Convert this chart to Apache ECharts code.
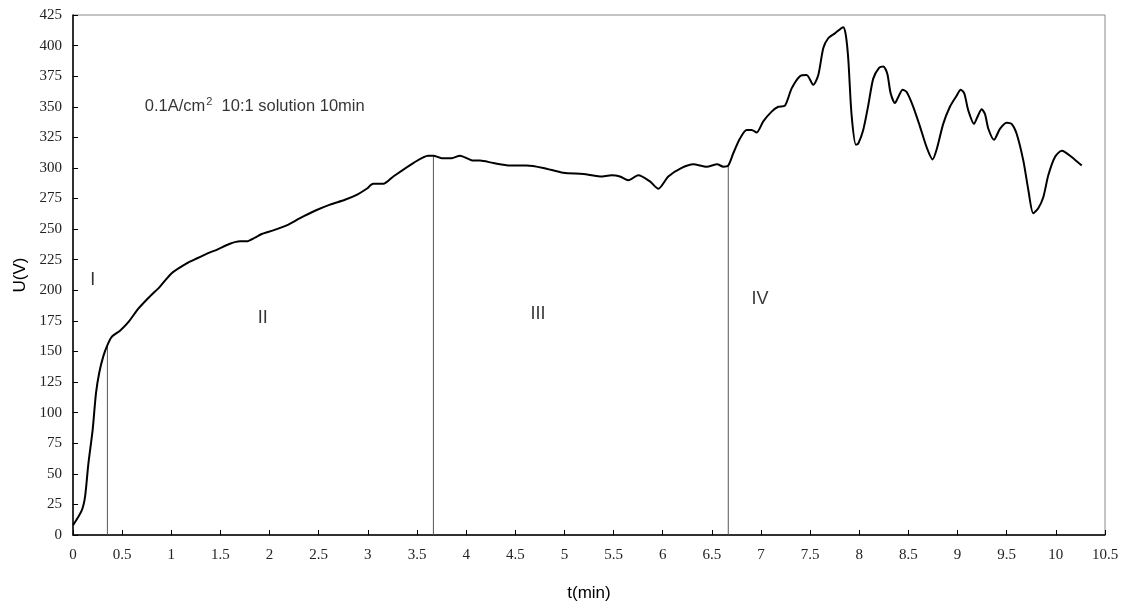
<!DOCTYPE html>
<html>
<head>
<meta charset="utf-8">
<script src="https://cdn.jsdelivr.net/npm/echarts@6/dist/echarts.min.js"></script>
<style>
  html, body { margin: 0; padding: 0; background: #fff; }
  #chart { width: 1129px; height: 607px; }
</style>
</head>
<body>
<div id="chart"></div>
<script>
// 时间 (min) 与电压 (V)
const timeMin = [
  0.00, 0.088, 0.122, 0.156, 0.20, 0.234, 0.268, 0.308, 0.349, 0.394, 0.478, 0.563,
  0.665, 0.783, 0.885, 1.004, 1.157, 1.258, 1.394, 1.462, 1.597, 1.699, 1.767, 1.852,
  1.92, 2.038, 2.174, 2.31, 2.462, 2.615, 2.767, 2.886, 2.988, 3.055, 3.157, 3.259,
  3.462, 3.615, 3.666, 3.751, 3.853, 3.937, 4.073, 4.141, 4.276, 4.446, 4.616, 4.785,
  4.988, 5.192, 5.362, 5.481, 5.565, 5.65, 5.752, 5.87, 5.955, 6.057, 6.193, 6.311,
  6.447, 6.555, 6.616, 6.667, 6.718, 6.786, 6.854, 6.905, 6.956, 7.023, 7.108, 7.176,
  7.244, 7.312, 7.396, 7.464, 7.532, 7.583, 7.634, 7.684, 7.752, 7.837, 7.864, 7.888,
  7.922, 7.966, 7.99, 8.04, 8.091, 8.142, 8.203, 8.244, 8.285, 8.319, 8.363, 8.397,
  8.441, 8.482, 8.549, 8.617, 8.685, 8.746, 8.787, 8.854, 8.922, 8.99, 9.031, 9.068,
  9.109, 9.167, 9.204, 9.245, 9.279, 9.313, 9.371, 9.431, 9.499, 9.55, 9.601, 9.669,
  9.72, 9.77, 9.821, 9.872, 9.923, 9.991, 10.059, 10.093, 10.161, 10.263
]
const voltage = [
  8, 20, 31, 58, 86, 116, 133, 146, 155, 162, 167, 174,
  185, 195, 203, 214, 222, 226, 231, 233, 238, 240, 240, 243,
  246, 249, 253, 259, 265, 270, 274, 278, 283, 287, 287, 293,
  304, 310, 310, 308, 308, 310, 306, 306, 304, 302, 302, 300,
  296, 295, 293, 294, 293, 290, 294, 289, 283, 293, 300, 303,
  301, 303, 301, 302, 312, 324, 331, 331, 329, 338, 346, 350,
  351, 365, 375, 376, 368, 376, 398, 406, 410, 415, 408, 389,
  343, 319, 320, 331, 351, 373, 382, 383, 377, 361, 353, 358,
  364, 362, 350, 334, 317, 307, 315, 336, 350, 359, 364, 361,
  347, 336, 342, 348, 344, 332, 323, 332, 337, 336, 328, 306,
  282, 263, 267, 276, 294, 309, 314, 313, 309, 302
]
// 阶段分界线
const boundaryT = [0.35, 3.667, 6.667]
const boundaryU = [155, 310, 302]
// 阶段标注
const stageNames = ['I', 'II', 'III', 'IV']
const stageT = [0.2, 1.93, 4.73, 6.99]
const stageU = [208, 177, 181, 193]

const xTicks = { min: 0, max: 10.5, interval: 0.5 }
const yTicks = { min: 0, max: 425, interval: 25 }

let mycharts = echarts.init(document.getElementById('chart'))

const curve = timeMin.map((t, i) => [t, voltage[i]])

const boundarySeries = boundaryT.map((t, i) => ({
  type: 'line',
  data: [[t, 0], [t, boundaryU[i]]],
  symbol: 'none',
  silent: true,
  z: 1,
  lineStyle: { color: '#555', width: 1 }
}))

mycharts.setOption({
  animation: false,
  grid: {
    left: 73,
    right: 24,
    top: 15,
    bottom: 72,
    show: true,
    borderColor: '#8a8a8a',
    borderWidth: 1
  },
  xAxis: {
    type: 'value',
    min: xTicks.min,
    max: xTicks.max,
    interval: xTicks.interval,
    name: 't(min)',
    nameLocation: 'middle',
    nameGap: 50,
    nameTextStyle: { fontFamily: 'Liberation Sans', fontSize: 17, color: '#000' },
    axisLine: { lineStyle: { color: '#000', width: 1.5 } },
    axisTick: { inside: true, length: 5, lineStyle: { color: '#000' } },
    axisLabel: { fontFamily: 'Liberation Serif', fontSize: 15, color: '#222', margin: 13 },
    splitLine: { show: false }
  },
  yAxis: {
    type: 'value',
    min: yTicks.min,
    max: yTicks.max,
    interval: yTicks.interval,
    name: 'U(V)',
    nameLocation: 'middle',
    nameGap: 40,
    nameTextStyle: { fontFamily: 'Liberation Sans', fontSize: 17, color: '#000' },
    axisLine: { show: true, lineStyle: { color: '#000', width: 1.5 } },
    axisTick: { show: true, inside: true, length: 5, lineStyle: { color: '#000' } },
    axisLabel: { fontFamily: 'Liberation Serif', fontSize: 15, color: '#222', margin: 11 },
    splitLine: { show: false }
  },
  series: [
    {
      type: 'line',
      data: curve,
      symbol: 'none',
      smooth: 0.25,
      z: 3,
      lineStyle: { color: '#000', width: 2 }
    },
    ...boundarySeries,
    {
      type: 'scatter',
      symbolSize: 0,
      silent: true,
      data: stageNames.map((n, i) => ({ value: [stageT[i], stageU[i]], name: n })),
      label: {
        show: true,
        position: 'inside',
        formatter: '{b}',
        fontFamily: 'Liberation Sans',
        fontSize: 18,
        color: '#000'
      }
    },
    {
      type: 'scatter',
      symbolSize: 0,
      silent: true,
      data: [{ value: [0.73, 350], name: 'note' }],
      label: {
        show: true,
        position: 'right',
        distance: 0,
        formatter: '0.1A/cm{sup|2}  10:1 solution 10min',
        fontFamily: 'Liberation Sans',
        fontSize: 16.5,
        color: '#000',
        rich: {
          sup: { fontSize: 11, verticalAlign: 'bottom', padding: [0, 0, 10, 1], fontFamily: 'Liberation Sans', color: '#000' }
        }
      }
    }
  ]
})
</script>
</body>
</html>
